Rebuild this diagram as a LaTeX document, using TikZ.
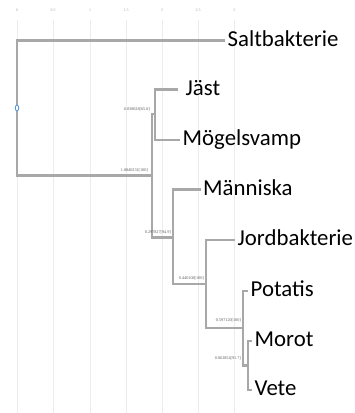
\documentclass[tikz,border=0pt]{standalone}
\usepackage{fontspec}
\setmainfont{Carlito}
\newfontfamily\smallfont{Liberation Serif}
\usetikzlibrary{positioning,shapes.geometric}
\definecolor{branch}{RGB}{168,168,168}
\definecolor{gridc}{RGB}{236,236,236}
\definecolor{dotc}{RGB}{91,155,213}
\definecolor{labc}{RGB}{90,90,90}
\tikzset{
  br/.style={draw=branch, line width=2.6pt, line join=miter},
  gridline/.style={draw=gridc, line width=0.9pt},
  leaf/.style={anchor=west, inner sep=0pt, xshift=2.5pt, font=\fontsize{22.8}{22.8}\selectfont, text height=14pt, text depth=3pt},
  blab/.style={anchor=base east, inner sep=0pt, font=\smallfont\fontsize{4.2}{4.2}\selectfont, text=labc},
  axlab/.style={anchor=base, inner sep=0pt, font=\smallfont\fontsize{4}{4}\selectfont, text=gray!70},
}
\begin{document}
\begin{tikzpicture}[x=1pt,y=-1pt]
\useasboundingbox (0,0) rectangle (355,413);
% grid and axis
\foreach \gx/\gl in {17/0,53/0.5,90/1,126/1.5,162/2,198/2.5,234/3}{
  \draw[gridline] (\gx,20) -- (\gx,413);
  \node[axlab] at (\gx,11) {\gl};
}
% internal nodes
\coordinate (R) at (17,108);
\coordinate (A) at (152,175.5);
\coordinate (B) at (155,114);
\coordinate (C) at (173,237.5);
\coordinate (D) at (206,284);
\coordinate (E) at (243,328);
\coordinate (F) at (248,365.5);
% leaf ends
\coordinate (lSalt) at (225,40.5);
\coordinate (lJast) at (178,89.5);
\coordinate (lMog) at (180,140);
\coordinate (lMann) at (200.5,189.5);
\coordinate (lJord) at (235,240);
\coordinate (lPot) at (248,291);
\coordinate (lMor) at (252,341);
\coordinate (lVet) at (252,390);
% branches
\draw[br] (R) |- (lSalt);
\draw[br] (R) |- (A);
\draw[br] (A) |- (B);
\draw[br] (A) |- (C);
\draw[br] (B) |- (lJast);
\draw[br] (B) |- (lMog);
\draw[br] (C) |- (lMann);
\draw[br] (C) |- (D);
\draw[br] (D) |- (lJord);
\draw[br] (D) |- (E);
\draw[br] (E) |- (lPot);
\draw[br] (E) |- (F);
\draw[br, line width=1.6pt] (F) |- (lMor);
\draw[br, line width=1.6pt] (F) |- (lVet);
% root marker
\node[draw=dotc, fill=white, line width=0.9pt, ellipse, minimum width=3.5pt, minimum height=6pt, inner sep=0pt] (rootmark) at (R) {};
% leaf labels
\node[leaf] (tSalt) at (lSalt) {Saltbakterie};
\node[leaf, xshift=5pt] (tJast) at (lJast) {Jäst};
\node[leaf] (tMog) at (lMog) {Mögelsvamp};
\node[leaf] (tMann) at (lMann) {Människa};
\node[leaf] (tJord) at (lJord) {Jordbakterie};
\node[leaf] (tPot) at (lPot) {Potatis};
\node[leaf] (tMor) at (lMor) {Morot};
\node[leaf] (tVet) at (lVet) {Vete};
% branch labels
\node[blab] (bB) at (150,110) {0.038028[65.8]};
\node[blab] (bA) at (148,171) {1.8840231[100]};
\node[blab] (bC) at (171,233) {0.297827[94.9]};
\node[blab] (bD) at (204,279) {0.440108[100]};
\node[blab] (bE) at (241,321) {0.597120[100]};
\node[blab] (bF) at (241,359) {0.062854[91.7]};
\end{tikzpicture}
\end{document}
